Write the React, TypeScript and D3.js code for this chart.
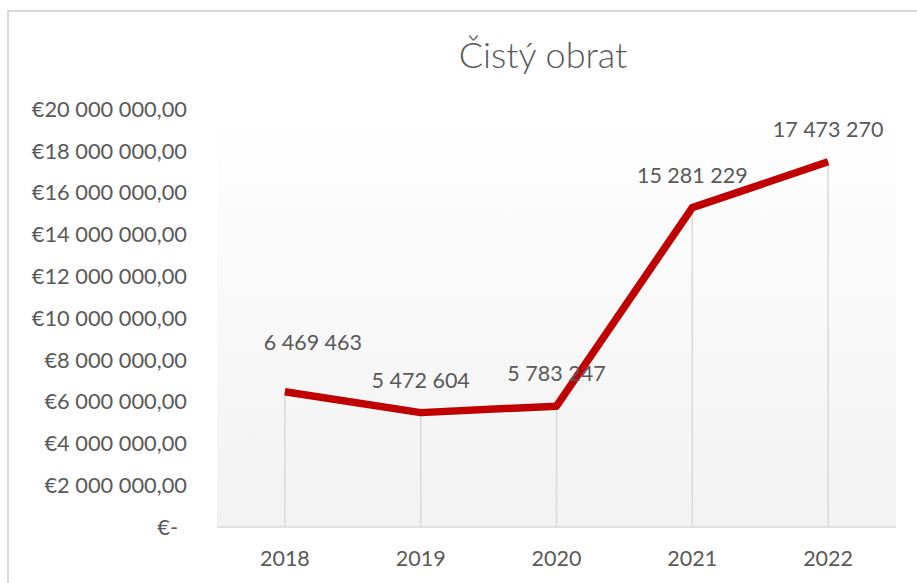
import React, { useEffect, useRef } from 'react'
import * as d3 from 'd3'

const years = ['2018', '2019', '2020', '2021', '2022']
const turnover = [6469463, 5472604, 5783247, 15281229, 17473270]
const yTicks = [0, 2e6, 4e6, 6e6, 8e6, 10e6, 12e6, 14e6, 16e6, 18e6, 20e6]
const chartTitle = 'Čistý obrat'

const width = 917
const height = 583
const plot = { left: 217, right: 896, top: 109, bottom: 527 }
const font = 'Lato, "Open Sans", sans-serif'
const textColor = '#595959'

const fmtInt = (v: number) => d3.format(',d')(v).replace(/,/g, ' ')
const fmtEuro = (v: number) => (v === 0 ? '€-' : '€' + d3.format(',.2f')(v).replace(/,/g, ' ').replace('.', ','))

function App() {
    const svgRef = useRef<SVGSVGElement>(null)

    useEffect(() => {
        const svg = d3.select(svgRef.current)
        svg.selectAll('*').remove()

        const x = d3.scalePoint().domain(years).range([plot.left, plot.right]).padding(0.5)
        const y = d3.scaleLinear().domain([0, 20e6]).range([plot.bottom, plot.top])

        const defs = svg.append('defs')
        const grad = defs.append('linearGradient').attr('id', 'bg').attr('x1', 0).attr('y1', 0).attr('x2', 0).attr('y2', 1)
        grad.append('stop').attr('offset', '0%').attr('stop-color', '#ffffff')
        grad.append('stop').attr('offset', '100%').attr('stop-color', '#f2f2f2')

        svg.append('rect').attr('width', width).attr('height', height).attr('fill', '#fff')
        // chart border runs off the right and bottom edges
        svg.append('rect')
            .attr('x', 8).attr('y', 11)
            .attr('width', 1000).attr('height', 1000)
            .attr('fill', 'none').attr('stroke', '#d9d9d9').attr('stroke-width', 2)

        svg.append('text')
            .attr('x', 543).attr('y', 68)
            .attr('text-anchor', 'middle')
            .attr('font-family', font).attr('font-weight', 300)
            .attr('font-size', 36).attr('fill', textColor)
            .text(chartTitle)

        svg.append('rect')
            .attr('x', plot.left).attr('y', plot.top)
            .attr('width', plot.right - plot.left).attr('height', plot.bottom - plot.top)
            .attr('fill', 'url(#bg)')

        // y axis labels
        svg.append('g')
            .selectAll('text')
            .data(yTicks)
            .join('text')
            .attr('x', d => (d === 0 ? 178 : 187))
            .attr('y', d => y(d))
            .attr('dy', '0.36em')
            .attr('text-anchor', 'end')
            .attr('font-family', font).attr('font-size', 21.8).attr('fill', textColor)
            .text(fmtEuro)

        // x axis labels
        svg.append('g')
            .selectAll('text')
            .data(years)
            .join('text')
            .attr('x', d => x(d)!)
            .attr('y', 566)
            .attr('text-anchor', 'middle')
            .attr('font-family', font).attr('font-size', 21.5).attr('fill', textColor)
            .text(d => d)

        // drop lines
        svg.append('g')
            .selectAll('line')
            .data(years)
            .join('line')
            .attr('x1', d => x(d)!).attr('x2', d => x(d)!)
            .attr('y1', (d, i) => y(turnover[i])).attr('y2', plot.bottom)
            .attr('stroke', '#d9d9d9').attr('stroke-width', 1.5)

        svg.append('line')
            .attr('x1', plot.left).attr('x2', plot.right)
            .attr('y1', plot.bottom).attr('y2', plot.bottom)
            .attr('stroke', '#d9d9d9').attr('stroke-width', 1.5)

        const line = d3.line<number>()
            .x((d, i) => x(years[i])!)
            .y(d => y(d))

        svg.append('path')
            .datum(turnover)
            .attr('d', line)
            .attr('fill', 'none')
            .attr('stroke', '#c00000')
            .attr('stroke-width', 7.5)
            .attr('stroke-linejoin', 'round')

        // data labels, the first one was dragged up and right
        svg.append('g')
            .selectAll('text')
            .data(turnover)
            .join('text')
            .attr('x', (d, i) => x(years[i])! + (i === 0 ? 28 : 0))
            .attr('y', (d, i) => y(d) - (i === 0 ? 42 : 25))
            .attr('text-anchor', 'middle')
            .attr('font-family', font).attr('font-size', 21.5).attr('fill', textColor)
            .text(fmtInt)
    }, [])

    return (
        <svg
            ref={svgRef}
            width={width}
            height={height}
            style={{ position: 'absolute', left: 0, top: 0, display: 'block' }}
        ></svg>
    )
}

export default App
